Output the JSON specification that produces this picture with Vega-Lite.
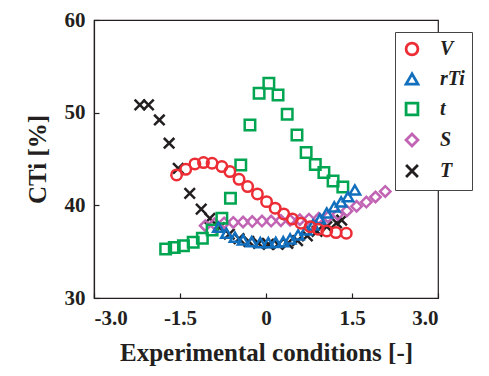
{
  "$schema": "https://vega.github.io/schema/vega-lite/v6.json",
  "width": 344,
  "height": 278,
  "autosize": {"type": "none"},
  "padding": {"left": 94, "top": 20, "right": 51, "bottom": 78},
  "background": "white",
  "config": {
    "view": {"stroke": "#231f20", "strokeWidth": 1.2},
    "font": "Liberation Serif",
    "axis": {
      "domainColor": "#231f20",
      "domainWidth": 1.2,
      "tickColor": "#231f20",
      "tickWidth": 1.2,
      "tickSize": -5,
      "grid": false,
      "labelFont": "Liberation Serif",
      "labelFontSize": 21,
      "labelFontWeight": "bold",
      "labelColor": "#231f20",
      "titleFont": "Liberation Serif",
      "titleFontSize": 25,
      "titleFontWeight": "bold",
      "titleColor": "#231f20"
    }
  },
  "data": {
    "values": [
      {"s": "T", "x": -2.20, "y": 50.83},
      {"s": "T", "x": -2.05, "y": 50.83},
      {"s": "T", "x": -1.86, "y": 49.21},
      {"s": "T", "x": -1.69, "y": 46.70},
      {"s": "T", "x": -1.53, "y": 44.0},
      {"s": "T", "x": -1.33, "y": 41.30},
      {"s": "T", "x": -1.13, "y": 39.58},
      {"s": "T", "x": -0.98, "y": 38.6},
      {"s": "T", "x": -0.81, "y": 37.6},
      {"s": "T", "x": -0.64, "y": 36.9},
      {"s": "T", "x": -0.47, "y": 36.4},
      {"s": "T", "x": -0.30, "y": 36.1},
      {"s": "T", "x": -0.13, "y": 35.9},
      {"s": "T", "x": 0.04, "y": 35.8},
      {"s": "T", "x": 0.21, "y": 35.8},
      {"s": "T", "x": 0.38, "y": 35.9},
      {"s": "T", "x": 0.55, "y": 36.2},
      {"s": "T", "x": 0.72, "y": 36.7},
      {"s": "T", "x": 0.89, "y": 37.2},
      {"s": "T", "x": 1.06, "y": 37.7},
      {"s": "T", "x": 1.23, "y": 38.1},
      {"s": "T", "x": 1.32, "y": 38.4},

      {"s": "S", "x": -1.06, "y": 37.8},
      {"s": "S", "x": -0.90, "y": 38.0},
      {"s": "S", "x": -0.73, "y": 38.1},
      {"s": "S", "x": -0.57, "y": 38.15},
      {"s": "S", "x": -0.40, "y": 38.2},
      {"s": "S", "x": -0.24, "y": 38.25},
      {"s": "S", "x": -0.07, "y": 38.3},
      {"s": "S", "x": 0.09, "y": 38.3},
      {"s": "S", "x": 0.26, "y": 38.35},
      {"s": "S", "x": 0.42, "y": 38.4},
      {"s": "S", "x": 0.59, "y": 38.45},
      {"s": "S", "x": 0.75, "y": 38.5},
      {"s": "S", "x": 0.92, "y": 38.6},
      {"s": "S", "x": 1.08, "y": 38.75},
      {"s": "S", "x": 1.25, "y": 39.0},
      {"s": "S", "x": 1.41, "y": 39.4},
      {"s": "S", "x": 1.58, "y": 39.9},
      {"s": "S", "x": 1.75, "y": 40.35},
      {"s": "S", "x": 1.91, "y": 40.9},
      {"s": "S", "x": 2.08, "y": 41.5},

      {"s": "t", "x": -1.75, "y": 35.30},
      {"s": "t", "x": -1.60, "y": 35.44},
      {"s": "t", "x": -1.44, "y": 35.65},
      {"s": "t", "x": -1.27, "y": 36.02},
      {"s": "t", "x": -1.11, "y": 36.45},
      {"s": "t", "x": -0.94, "y": 37.35},
      {"s": "t", "x": -0.77, "y": 38.61},
      {"s": "t", "x": -0.62, "y": 40.77},
      {"s": "t", "x": -0.44, "y": 44.36},
      {"s": "t", "x": -0.28, "y": 48.67},
      {"s": "t", "x": -0.12, "y": 52.09},
      {"s": "t", "x": 0.05, "y": 53.17},
      {"s": "t", "x": 0.21, "y": 51.91},
      {"s": "t", "x": 0.37, "y": 49.83},
      {"s": "t", "x": 0.54, "y": 47.59},
      {"s": "t", "x": 0.70, "y": 45.71},
      {"s": "t", "x": 0.86, "y": 44.41},
      {"s": "t", "x": 1.01, "y": 43.55},
      {"s": "t", "x": 1.17, "y": 42.63},
      {"s": "t", "x": 1.34, "y": 41.98},

      {"s": "rTi", "x": -0.83, "y": 37.64},
      {"s": "rTi", "x": -0.69, "y": 36.99},
      {"s": "rTi", "x": -0.54, "y": 36.56},
      {"s": "rTi", "x": -0.40, "y": 36.27},
      {"s": "rTi", "x": -0.25, "y": 36.08},
      {"s": "rTi", "x": -0.10, "y": 35.98},
      {"s": "rTi", "x": 0.04, "y": 35.98},
      {"s": "rTi", "x": 0.17, "y": 36.0},
      {"s": "rTi", "x": 0.30, "y": 36.08},
      {"s": "rTi", "x": 0.42, "y": 36.38},
      {"s": "rTi", "x": 0.56, "y": 36.81},
      {"s": "rTi", "x": 0.70, "y": 37.35},
      {"s": "rTi", "x": 0.82, "y": 37.89},
      {"s": "rTi", "x": 0.94, "y": 38.53},
      {"s": "rTi", "x": 1.06, "y": 39.18},
      {"s": "rTi", "x": 1.19, "y": 39.83},
      {"s": "rTi", "x": 1.31, "y": 40.37},
      {"s": "rTi", "x": 1.43, "y": 40.94},
      {"s": "rTi", "x": 1.55, "y": 41.66},

      {"s": "V", "x": -1.56, "y": 43.28},
      {"s": "V", "x": -1.40, "y": 43.89},
      {"s": "V", "x": -1.24, "y": 44.47},
      {"s": "V", "x": -1.09, "y": 44.61},
      {"s": "V", "x": -0.94, "y": 44.54},
      {"s": "V", "x": -0.77, "y": 44.18},
      {"s": "V", "x": -0.63, "y": 43.64},
      {"s": "V", "x": -0.47, "y": 42.81},
      {"s": "V", "x": -0.32, "y": 42.02},
      {"s": "V", "x": -0.15, "y": 41.23},
      {"s": "V", "x": 0.01, "y": 40.40},
      {"s": "V", "x": 0.16, "y": 39.69},
      {"s": "V", "x": 0.31, "y": 39.07},
      {"s": "V", "x": 0.46, "y": 38.53},
      {"s": "V", "x": 0.61, "y": 38.07},
      {"s": "V", "x": 0.77, "y": 37.70},
      {"s": "V", "x": 0.91, "y": 37.42},
      {"s": "V", "x": 1.06, "y": 37.24},
      {"s": "V", "x": 1.22, "y": 37.06},
      {"s": "V", "x": 1.40, "y": 36.99}
    ]
  },
  "mark": {"type": "point", "filled": false, "strokeWidth": 2.5, "size": 110, "opacity": 1},
  "encoding": {
    "x": {
      "field": "x",
      "type": "quantitative",
      "scale": {"domain": [-3, 3], "nice": false, "zero": false},
      "axis": {
        "title": "Experimental conditions [-]",
        "values": [-3, -1.5, 0, 1.5, 3],
        "labelExpr": "datum.value == 0 ? '0' : (datum.value < 0 ? '-' + format(-datum.value, '.1f') : format(datum.value, '.1f'))",
        "labelPadding": 14,
        "titlePadding": 12
      }
    },
    "y": {
      "field": "y",
      "type": "quantitative",
      "scale": {"domain": [30, 60], "nice": false, "zero": false},
      "axis": {
        "title": "CTi [%]",
        "values": [30, 40, 50, 60],
        "labelPadding": 14,
        "titlePadding": 14
      }
    },
    "color": {
      "field": "s",
      "type": "nominal",
      "scale": {
        "domain": ["V", "rTi", "t", "S", "T"],
        "range": ["#ec2d35", "#116fbd", "#00a551", "#c264b4", "#231f20"]
      },
      "legend": {
        "title": null,
        "orient": "none",
        "legendX": 301,
        "legendY": 12,
        "fillColor": "white",
        "strokeColor": "#444444",
        "padding": 7,
        "rowPadding": 7,
        "symbolSize": 140,
        "symbolStrokeWidth": 2.8,
        "labelFont": "Liberation Serif",
        "labelFontSize": 20,
        "labelFontWeight": "bold",
        "labelFontStyle": "italic",
        "labelColor": "#231f20",
        "labelOffset": 18,
        "labelLimit": 60
      }
    },
    "shape": {
      "field": "s",
      "type": "nominal",
      "scale": {
        "domain": ["V", "rTi", "t", "S", "T"],
        "range": ["circle", "triangle-up", "square", "diamond", "M-1,-1L1,1M-1,1L1,-1"]
      }
    }
  }
}
